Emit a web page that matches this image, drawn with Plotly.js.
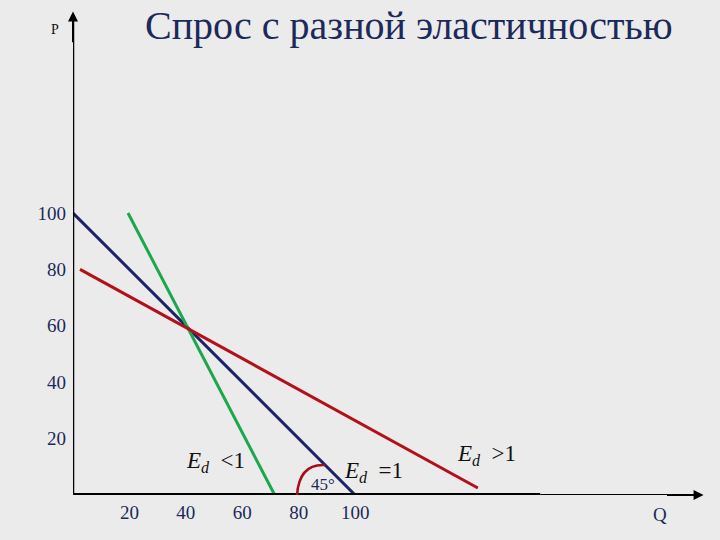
<!DOCTYPE html>
<html><head><meta charset="utf-8">
<script src="https://cdn.plot.ly/plotly-3.0.1.min.js"></script>
<style>html,body{margin:0;padding:0;background:#ebebeb;}</style>
</head><body>
<div id="chart" style="width:720px;height:540px;"></div>
<script>
const titleText = "Спрос с разной эластичностью";
const tickValsY = [20, 40, 60, 80, 100];
const tickValsX = [20, 40, 60, 80, 100];
const blueQ = [0, 100], blueP = [100, 0];
const greenQ = [19.5, 71.5], greenP = [100, 0];
const redQ = [2.5, 143.5], redP = [80, 2.5];

const serif = "Liberation Serif";
const navy = "#1b2a5a";

const traces = [
  {x: blueQ, y: blueP, mode: "lines", line: {color: "#1b2366", width: 3}, cliponaxis: false},
  {x: greenQ, y: greenP, mode: "lines", line: {color: "#1aa84c", width: 3}, cliponaxis: false},
  {x: redQ, y: redP, mode: "lines", line: {color: "#b3101c", width: 3}, cliponaxis: false}
];

const layout = {
  width: 720, height: 540,
  paper_bgcolor: "#ebebeb", plot_bgcolor: "#ebebeb",
  showlegend: false,
  margin: {l: 73, r: 15.3, t: 10, b: 45},
  xaxis: {range: [0, 224], showgrid: false, zeroline: false, showline: false,
    tickvals: tickValsX, ticks: "", ticklabelstandoff: 4,
    tickfont: {family: serif, size: 19, color: navy}},
  yaxis: {range: [0, 172], showgrid: false, zeroline: false, showline: false,
    tickvals: tickValsY, ticks: "", ticklabelstandoff: 6,
    tickfont: {family: serif, size: 19, color: navy}},
  shapes: [
    {type: "line", xref: "x", yref: "y", x0: 0, y0: 0, x1: 165.6, y1: 0, line: {color: "#000", width: 4}},
    {type: "line", xref: "x", yref: "y", x0: 165.6, y0: 0, x1: 221, y1: 0, line: {color: "#000", width: 2}},
    {type: "line", xref: "x", yref: "y", x0: 0, y0: 0, x1: 0, y1: 169, line: {color: "#000", width: 2.5}},
    {type: "path", xref: "x", yref: "y", path: "M 79.4,0 Q 80.2,11.2 89.4,10.6", line: {color: "#a3101c", width: 2.5}}
  ],
  annotations: [
    {xref: "paper", yref: "paper", x: 0.5, y: 1, xanchor: "center", yanchor: "bottom", showarrow: false,
     text: titleText, font: {family: serif, size: 40, color: navy}, yshift: -40, xshift: 20},
    {xref: "x", yref: "y", x: 223.5, y: 0, ax: 210, ay: 0, axref: "x", ayref: "y", text: "",
     showarrow: true, arrowhead: 2, arrowsize: 1, arrowwidth: 2, arrowcolor: "#000"},
    {xref: "x", yref: "y", x: 0, y: 171.5, ax: 0, ay: 160, axref: "x", ayref: "y", text: "",
     showarrow: true, arrowhead: 2, arrowsize: 1, arrowwidth: 2, arrowcolor: "#000"},
    {xref: "paper", yref: "paper", x: -0.0285, y: 0.9588, xanchor: "center", yanchor: "middle",
     showarrow: false, text: "P", font: {family: serif, size: 14, color: "#111"}},
    {xref: "paper", yref: "paper", x: 0.929, y: -0.041, xanchor: "center", yanchor: "middle",
     showarrow: false, text: "Q", font: {family: serif, size: 19, color: navy}},
    {xref: "x", yref: "y", x: 50.5, y: 11.8, showarrow: false,
     text: "<i>E</i><sub><i>d</i></sub>  &lt;1", font: {family: serif, size: 23, color: "#111"}},
    {xref: "x", yref: "y", x: 106.5, y: 8.3, showarrow: false,
     text: "<i>E</i><sub><i>d</i></sub>  =1", font: {family: serif, size: 23, color: "#111"}},
    {xref: "x", yref: "y", x: 146.5, y: 14.3, showarrow: false,
     text: "<i>E</i><sub><i>d</i></sub>  &gt;1", font: {family: serif, size: 23, color: "#111"}},
    {xref: "x", yref: "y", x: 88.6, y: 3.9, showarrow: false,
     text: "45°", font: {family: serif, size: 17, color: navy}}
  ]
};

Plotly.newPlot("chart", traces, layout, {displayModeBar: false, staticPlot: true});
</script>
</body></html>
